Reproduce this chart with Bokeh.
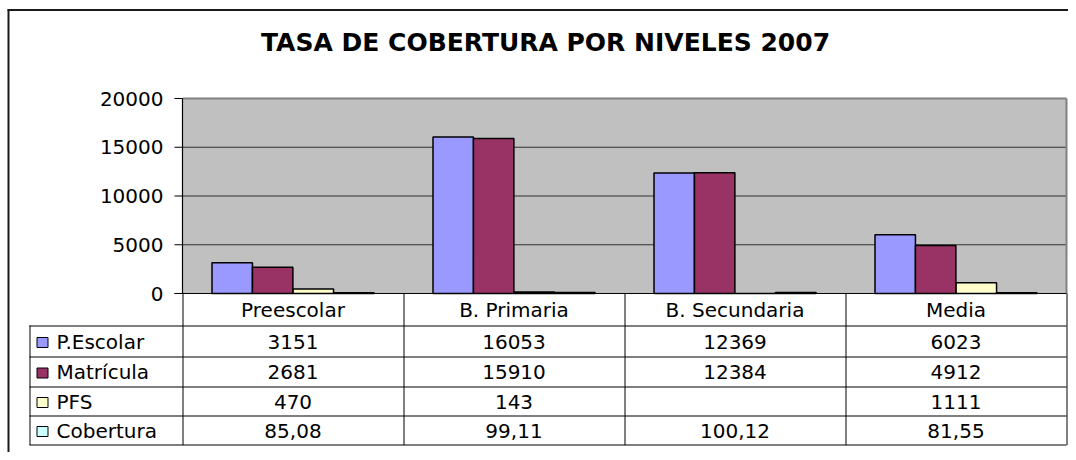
from bokeh.plotting import figure
from bokeh.models import Range1d, ColumnDataSource
from bokeh.core.properties import value
from bokeh.embed import file_html
from bokeh.resources import INLINE

# ---------------- data ----------------
title = "TASA DE COBERTURA POR NIVELES 2007"
categories = ["Preescolar", "B. Primaria", "B. Secundaria", "Media"]
series_names = ["P.Escolar", "Matrícula", "PFS", "Cobertura"]
p_escolar = [3151, 16053, 12369, 6023]
matricula = [2681, 15910, 12384, 4912]
pfs = [470, 143, None, 1111]
cobertura = [85.08, 99.11, 100.12, 81.55]
y_ticks = [0, 5000, 10000, 15000, 20000]
colors = ["#9999FF", "#993366", "#FFFFCC", "#CCFFFF"]

# ---------------- layout (pixels, origin at figure top-left) ----------------
W, H = 1068, 452
PL, PR, PT, PB = 182, 1066, 98, 293      # plot area
YMAX = 20000
CATW = (PR - PL) / len(categories)
TBL_L = 29
ROW_LINES = [293, 325, 356, 386, 415, 444]
FONT = value("DejaVu Sans")
FS = "20px"

p = figure(width=W, height=H, output_backend="svg", toolbar_location=None,
           x_range=Range1d(0, W), y_range=Range1d(H, 0),
           x_axis_type=None, y_axis_type=None, min_border=0,
           background_fill_color="white", border_fill_color="white")
p.outline_line_color = None
p.grid.visible = False

# category range: category i center at x = PL + CATW*(i+0.5)
c0 = PL + CATW * 0.5
p.extra_x_ranges = {"cat": Range1d((0 - c0) / CATW, (W - c0) / CATW)}
# value range: 0 at PB, YMAX at PT
k = (PB - PT) / YMAX
p.extra_y_ranges = {"val": Range1d((PB - H) / k, (PB - 0) / k)}

# outer chart frame
p.segment(x0=[7, 8], y0=[9.5, 9], x1=[W, 8], y1=[9.5, H],
          line_color="#1a1a1a", line_width=2)

# title
p.text(x=[545], y=[42], text=[title], text_font=FONT, text_font_style="bold",
       text_font_size="25px", text_align="center", text_baseline="middle",
       text_color="black")

# plot area
p.quad(left=[PL], right=[PR], bottom=[0], top=[YMAX], y_range_name="val",
       fill_color="#C0C0C0", line_color=None)
# gridlines
grid_vals = [t for t in y_ticks if 0 < t < YMAX]
p.segment(x0=[PL] * len(grid_vals), x1=[PR] * len(grid_vals), y0=grid_vals, y1=grid_vals,
          y_range_name="val", line_color="#333333", line_width=1)
# plot area border (top/right gray)
p.segment(x0=[PL, PR], y0=[YMAX, YMAX], x1=[PR, PR], y1=[YMAX, 0],
          y_range_name="val", line_color="#808080", line_width=2)

# bars
offsets = [-0.275, -0.092, 0.092, 0.275]
bw = 0.183
all_series = [p_escolar, matricula, pfs, cobertura]
for vals, off, col in zip(all_series, offsets, colors):
    src = ColumnDataSource(dict(x=[i + off for i in range(len(categories))],
                                top=[v if v is not None else 0 for v in vals]))
    p.vbar(x="x", top="top", bottom=0, width=bw, source=src,
           x_range_name="cat", y_range_name="val",
           fill_color=col, line_color="black", line_width=1.5)

# y axis line, ticks, labels
p.segment(x0=[PL], x1=[PL], y0=[0], y1=[YMAX], y_range_name="val",
          line_color="black", line_width=1.2)
p.segment(x0=[PL - 8] * len(y_ticks), x1=[PL] * len(y_ticks), y0=y_ticks, y1=y_ticks,
          y_range_name="val", line_color="black", line_width=1)
p.text(x=[163] * len(y_ticks), y=y_ticks, text=[str(t) for t in y_ticks],
       y_range_name="val", text_font=FONT, text_font_size=FS,
       text_align="right", text_baseline="middle", text_color="black")

# data table lines
p.segment(x0=[PL - 8], x1=[PR], y0=[PB], y1=[PB], line_color="black", line_width=1.2)
for yl in ROW_LINES[1:]:
    p.segment(x0=[TBL_L], x1=[PR], y0=[yl + 0.5], y1=[yl + 0.5], line_color="black", line_width=1.2)
p.segment(x0=[TBL_L + 0.5], x1=[TBL_L + 0.5], y0=[ROW_LINES[1]], y1=[ROW_LINES[-1] + 0.5],
          line_color="black", line_width=1)
col_x = [PL + CATW * i for i in range(len(categories) + 1)]
p.segment(x0=[x + 0.5 for x in col_x], x1=[x + 0.5 for x in col_x],
          y0=[PB] * len(col_x), y1=[ROW_LINES[-1] + 0.5] * len(col_x),
          line_color="black", line_width=1)

row_c = [(ROW_LINES[i] + ROW_LINES[i + 1]) / 2 + 0.5 for i in range(len(ROW_LINES) - 1)]

# category header
p.text(x=list(range(len(categories))), y=[row_c[0]] * len(categories), text=categories,
       x_range_name="cat", text_font=FONT, text_font_size=FS,
       text_align="center", text_baseline="middle", text_color="black")

def fmt(v):
    if v is None:
        return ""
    if isinstance(v, float):
        return f"{v:.2f}".replace(".", ",")
    return str(v)

for r, (name, vals, col) in enumerate(zip(series_names, all_series, colors)):
    yc = row_c[r + 1]
    p.text(x=list(range(len(categories))), y=[yc] * len(categories),
           text=[fmt(v) for v in vals], x_range_name="cat", text_font=FONT,
           text_font_size=FS, text_align="center", text_baseline="middle",
           text_color="black")
    p.rect(x=[42], y=[yc + 1], width=11, height=10, fill_color=col,
           line_color="black", line_width=1)
    p.text(x=[56], y=[yc], text=[name], text_font=FONT, text_font_size=FS,
           text_align="left", text_baseline="middle", text_color="black")

open("out.html", "w").write(file_html(p, INLINE))
